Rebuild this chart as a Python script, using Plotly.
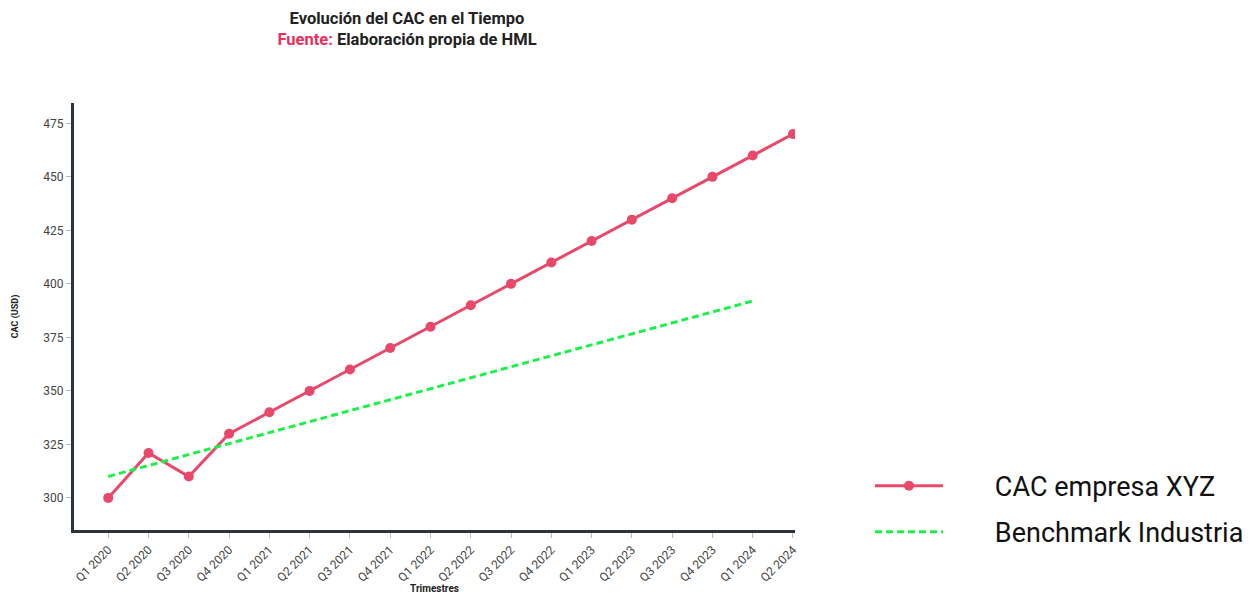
import plotly.graph_objects as go

quarters = ["Q1 2020", "Q2 2020", "Q3 2020", "Q4 2020",
            "Q1 2021", "Q2 2021", "Q3 2021", "Q4 2021",
            "Q1 2022", "Q2 2022", "Q3 2022", "Q4 2022",
            "Q1 2023", "Q2 2023", "Q3 2023", "Q4 2023",
            "Q1 2024", "Q2 2024"]
cac_xyz = [300, 321, 310, 330, 340, 350, 360, 370, 380, 390,
           400, 410, 420, 430, 440, 450, 460, 470]
benchmark_quarters = ["Q1 2020", "Q1 2024"]
benchmark_values = [310, 392]
y_ticks = [300, 325, 350, 375, 400, 425, 450, 475]

RED = "#E8486A"
GREEN = "#1EF04A"
AXIS = "#2B333B"
FONT = "Roboto"
PAD = "\u00a0" * 7  # spacing between legend symbol and label

fig = go.Figure()
fig.add_trace(go.Scatter(
    x=quarters, y=cac_xyz, name=PAD + "CAC empresa XYZ",
    mode="lines+markers",
    line=dict(color=RED, width=3),
    marker=dict(color=RED, size=10),
    legendgroup="a",
))
fig.add_trace(go.Scatter(
    x=benchmark_quarters, y=benchmark_values, name=PAD + "Benchmark Industria",
    mode="lines",
    line=dict(color=GREEN, width=3, dash="7px,4px"),
    legendgroup="b",
))

fig.update_layout(
    width=1257, height=594,
    margin=dict(l=74, r=462, t=103, b=64, autoexpand=False),
    paper_bgcolor="white", plot_bgcolor="white",
    font=dict(family=FONT, color="#444"),
    title=dict(
        text="<b>Evolución del CAC en el Tiempo</b><br>"
             "<b><span style='color:#E8305A'>Fuente:</span> Elaboración propia de HML</b>",
        x=407 / 1257, xanchor="center", xref="container",
        y=1 - 24 / 594, yanchor="middle", yref="container",
        font=dict(family=FONT, size=16.5, color="#222"),
    ),
    showlegend=True,
    legend=dict(
        x=1.104, xanchor="left", y=0.16, yanchor="top",
        font=dict(family=FONT, size=27, color="#111"),
        itemwidth=68, tracegroupgap=8,
        bgcolor="rgba(0,0,0,0)",
    ),
)

fig.update_xaxes(
    type="category",
    range=[-0.85, 17.05],
    showline=True, linecolor=AXIS, linewidth=3,
    showgrid=False, zeroline=False, automargin=False,
    ticks="outside", ticklen=5, tickcolor="#bbb", tickwidth=1,
    tickangle=-45, tickfont=dict(family=FONT, size=12, color="#444"),
    title=dict(text="<b>Trimestres</b>", font=dict(family=FONT, size=10, color="#222"),
               standoff=14),
)
fig.update_yaxes(
    range=[285, 484.5],
    tickvals=y_ticks,
    showline=True, linecolor=AXIS, linewidth=3,
    showgrid=False, zeroline=False, automargin=False,
    ticks="outside", ticklen=5, tickcolor="#bbb", tickwidth=1,
    tickfont=dict(family=FONT, size=12, color="#444"),
    title=dict(text="<b>CAC (USD)</b>", font=dict(family=FONT, size=9, color="#222"),
               standoff=24),
)

fig.write_html("out.html")
